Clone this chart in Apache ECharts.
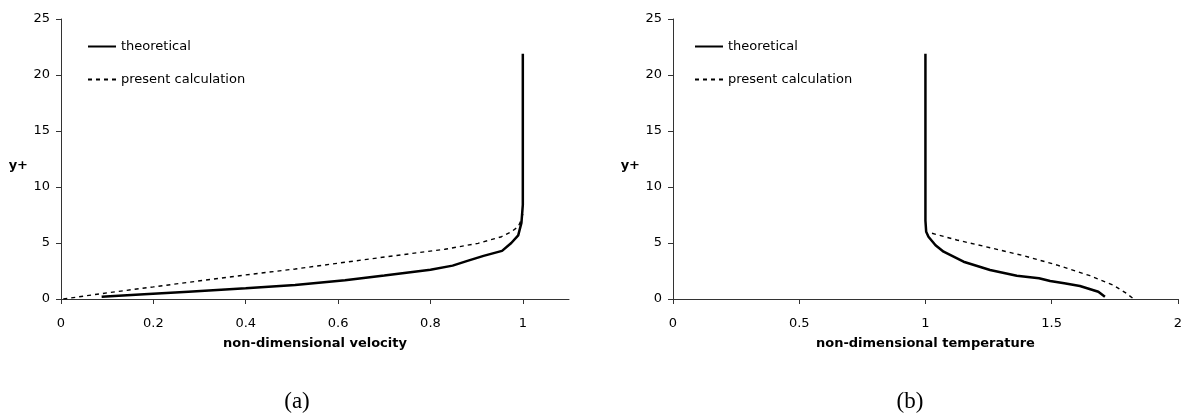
<!DOCTYPE html>
<html>
<head>
<meta charset="utf-8">
<script src="https://cdn.jsdelivr.net/npm/echarts@6/dist/echarts.min.js"></script>
<style>html,body{margin:0;padding:0;background:#fff}#c{width:1185px;height:414px}</style>
</head>
<body>
<div id="c"></div>
<script>
// ---- data ----
const seriesNames = ['theoretical', 'present calculation'];
// (a) velocity
const velTheoX = [0.088, 0.18, 0.276, 0.40, 0.507, 0.615, 0.70, 0.80, 0.848, 0.88, 0.915, 0.955, 0.975, 0.99, 0.997, 1.0, 1.0];
const velTheoY = [0.2, 0.42, 0.65, 0.95, 1.25, 1.68, 2.1, 2.62, 2.98, 3.4, 3.85, 4.3, 5.0, 5.68, 6.8, 8.4, 21.9];
const velCalcX = [0.005, 0.10, 0.20, 0.276, 0.40, 0.507, 0.615, 0.723, 0.831, 0.903, 0.954, 0.975, 0.99, 0.997, 1.0];
const velCalcY = [0.0, 0.55, 1.08, 1.49, 2.15, 2.68, 3.28, 3.87, 4.44, 4.97, 5.56, 6.0, 6.46, 7.1, 7.6];
// (b) temperature
const tmpTheoX = [1.0, 1.0, 1.003, 1.012, 1.04, 1.072, 1.151, 1.256, 1.362, 1.45, 1.494, 1.55, 1.612, 1.685, 1.711];
const tmpTheoY = [21.9, 7.0, 6.0, 5.56, 4.8, 4.22, 3.33, 2.59, 2.08, 1.85, 1.61, 1.4, 1.16, 0.65, 0.2];
const tmpCalcX = [1.026, 1.124, 1.256, 1.388, 1.52, 1.652, 1.743, 1.796, 1.825];
const tmpCalcY = [5.87, 5.27, 4.58, 3.87, 3.04, 2.08, 1.25, 0.51, 0.0];
// ticks
const velTicks = [0, 0.2, 0.4, 0.6, 0.8, 1];
const tmpTicks = [0, 0.5, 1, 1.5, 2];
const yTicks = [0, 5, 10, 15, 20, 25];
const axisTitles = ['non-dimensional velocity', 'non-dimensional temperature', 'y+'];
const panelLabels = ['(a)', '(b)'];

const pairs = (xs, ys) => xs.map((x, i) => [x, ys[i]]);
const FONT = 'DejaVu Sans';
const axisColor = '#333';

function xAxisDef(gi, max, ticks, name) {
  return {
    type: 'value', gridIndex: gi, min: 0, max: max,
    name: name, nameLocation: 'middle', nameGap: 38,
    nameTextStyle: { fontFamily: FONT, fontSize: 13, fontWeight: 'bold', color: '#000' },
    axisLine: { show: true, onZero: false, lineStyle: { color: axisColor, width: 1 } },
    axisTick: { show: true, inside: false, length: 5, customValues: ticks, lineStyle: { color: axisColor } },
    axisLabel: { customValues: ticks, margin: 18, fontFamily: FONT, fontSize: 13, color: '#000',
      formatter: v => String(+v.toFixed(2)) },
    splitLine: { show: false }
  };
}
function yAxisDef(gi) {
  return {
    type: 'value', gridIndex: gi, min: 0, max: 25, interval: 5,
    name: axisTitles[2], nameLocation: 'middle', nameGap: 33, nameRotate: 0,
    nameTextStyle: { fontFamily: FONT, fontSize: 13, fontWeight: 'bold', color: '#000', verticalAlign: 'top' },
    axisLine: { show: true, lineStyle: { color: axisColor, width: 1 } },
    axisTick: { show: true, inside: false, length: 5, customValues: yTicks, lineStyle: { color: axisColor } },
    axisLabel: { customValues: yTicks, margin: 11, fontFamily: FONT, fontSize: 13, color: '#000' },
    splitLine: { show: false }
  };
}
const solid = { color: '#000', width: 2.5, type: 'solid' };
const dashed = { color: '#000', width: 1.4, type: [4, 4] };
function line(name, gi, data, style, z) {
  return {
    name: name, type: 'line', xAxisIndex: gi, yAxisIndex: gi, data: data,
    symbol: 'none', smooth: false, lineStyle: style, itemStyle: { color: '#000' },
    z: z, silent: true, animation: false
  };
}
function legendDef(left) {
  return {
    data: seriesNames, orient: 'vertical', left: left, top: 40, padding: 0,
    itemWidth: 28, itemHeight: 14, itemGap: 20,
    itemStyle: { opacity: 0, color: 'rgba(0,0,0,0)', borderWidth: 0 },
    textStyle: { fontFamily: FONT, fontSize: 13, color: '#000' },
    selectedMode: false
  };
}

const chart = echarts.init(document.getElementById('c'), null, { renderer: 'canvas' });
chart.setOption({
  backgroundColor: '#fff',
  animation: false,
  grid: [
    { left: 61, top: 19, width: 508, height: 280 },
    { left: 673, top: 19, width: 507, height: 280 }
  ],
  xAxis: [
    xAxisDef(0, 1.1, velTicks, axisTitles[0]),
    xAxisDef(1, 2, tmpTicks, axisTitles[1])
  ],
  yAxis: [yAxisDef(0), yAxisDef(1)],
  legend: [legendDef(87), legendDef(694)],
  series: [
    line(seriesNames[1], 0, pairs(velCalcX, velCalcY), dashed, 2),
    line(seriesNames[0], 0, pairs(velTheoX, velTheoY), solid, 3),
    line(seriesNames[1], 1, pairs(tmpCalcX, tmpCalcY), dashed, 2),
    line(seriesNames[0], 1, pairs(tmpTheoX, tmpTheoY), solid, 3)
  ],
  graphic: [
    { type: 'text', x: 297, y: 402, style: { text: panelLabels[0], font: '23px "Liberation Serif"', fill: '#000', textAlign: 'center', textVerticalAlign: 'middle' } },
    { type: 'text', x: 910, y: 402, style: { text: panelLabels[1], font: '23px "Liberation Serif"', fill: '#000', textAlign: 'center', textVerticalAlign: 'middle' } }
  ]
});
</script>
</body>
</html>
